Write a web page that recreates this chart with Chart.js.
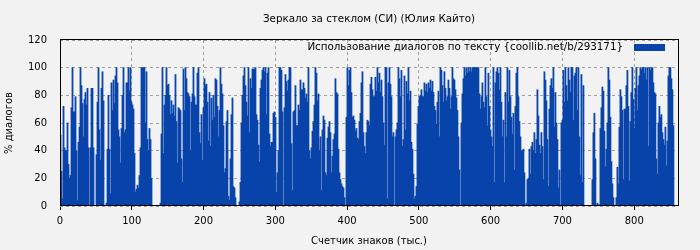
<!DOCTYPE html>
<html lang="ru">
<head>
<meta charset="utf-8">
<title>Зеркало за стеклом (СИ) (Юлия Кайто)</title>
<script src="https://cdn.jsdelivr.net/npm/chart.js@4.4.1/dist/chart.umd.min.js"></script>
<style>
  body { margin: 0; background: #f2f2f2; }
  canvas { display: block; }
</style>
</head>
<body>
<canvas id="dialogChart" width="700" height="250"></canvas>
<script>
const chartTitle = "Зеркало за стеклом (СИ) (Юлия Кайто)";
const seriesLabel = "Использование диалогов по тексту {coollib.net/b/293171}";
const xTitle = "Счетчик знаков (тыс.)";
const yTitle = "% диалогов";
const xTicks = [0, 100, 200, 300, 400, 500, 600, 700, 800];
const yTicks = [0, 20, 40, 60, 80, 100, 120];
const xMax = 861;
const kStep = 1.393; // тыс. знаков на один столбец

// % диалогов по участкам текста
const dialogShare = [
  51, 25, 5, 72, 42, 40, 40, 60, 30, 20, 22, 71, 100, 68, 68, 79, 40, 4, 46, 57,
  100, 87, 74, 50, 77, 82, 73, 85, 42, 0, 42, 85, 85, 42, 0, 0, 37, 75, 100, 55,
  33, 85, 97, 76, 0, 0, 2, 41, 80, 41, 9, 89, 69, 91, 74, 94, 100, 89, 55, 50,
  31, 56, 80, 100, 53, 55, 89, 89, 100, 83, 100, 75, 73, 70, 38, 10, 12, 15, 13, 22,
  42, 100, 100, 100, 100, 60, 97, 48, 40, 56, 48, 20, 0, 0, 0, 0, 0, 0, 0, 0,
  2, 52, 100, 38,
  73, 80, 100, 87, 88, 80, 66, 76, 67, 73, 65, 95, 61, 31, 71, 70, 69, 34, 17, 99,
  69, 100, 92, 82, 81, 79, 40, 75, 81, 100, 79, 73, 73, 96, 100, 53, 45, 66, 33, 71,
  92, 87, 88, 75, 47, 82, 43, 78, 62, 80, 64, 92, 91, 72, 50, 69, 100, 88, 81, 58,
  24, 27, 61, 69, 7, 4, 34, 66, 78, 14, 13, 6, 0, 0, 0, 3, 17, 60, 80, 94,
  100, 87, 75, 65, 100, 53, 92, 85, 99, 99, 99, 100, 66, 62, 44, 32, 85, 91, 98, 100,
  97, 100, 66, 96, 100,
  52, 43, 46, 46, 67, 68, 64, 10, 24, 40, 100, 100, 98, 68, 0, 71, 95, 90, 83, 91,
  100, 100, 45, 11, 68, 69, 87, 58, 58, 73, 69, 91, 84, 84, 89, 85, 78, 81, 75, 100,
  40, 34, 42, 54, 61, 73, 100, 96, 76, 81, 40, 50, 11, 55, 65, 62, 24, 22, 49, 57,
  61, 53, 24, 36, 48, 52, 92, 82, 81, 41, 24, 19, 16, 14, 13, 6, 0, 64, 100, 87,
  98, 100, 82, 64, 65, 62, 54, 56, 49, 48, 61, 67, 89, 97, 53, 43, 38, 53, 62, 61,
  58, 88, 93, 84, 79,
  79, 93, 83, 100, 89, 96, 82, 91, 79, 60, 44, 100, 100, 5, 89, 100, 88, 79, 50, 53,
  0, 50, 55, 60, 100, 92, 79, 98, 43, 48, 94, 55, 90, 81, 100, 76, 83, 46, 41, 23,
  5, 7, 14, 59, 72, 79, 80, 84, 79, 79, 89, 83, 88, 82, 89, 85, 91, 83, 90, 82,
  72, 69, 59, 75, 83, 50, 100, 98, 87, 75, 97, 85, 76, 79, 91, 85, 70, 79, 100, 92,
  91, 84, 78, 69, 50, 26, 0, 60, 81, 92, 100, 94, 100, 96, 100, 97, 100, 97, 100, 100,
  100, 100, 100, 100, 100,
  81, 70, 79, 89, 75, 71, 100, 79, 58, 96, 72, 55, 50, 43, 100, 17, 89, 97, 100, 96,
  84, 100, 75, 50, 62, 17, 82, 50, 100, 75, 98, 79, 64, 52, 67, 26, 72, 96, 100, 79,
  61, 50, 40, 40, 41, 24, 0, 2, 19, 20, 41, 23, 43, 46, 40, 53, 38, 48, 84, 65,
  44, 38, 53, 43, 19, 97, 91, 76, 48, 14, 70, 87, 92, 85, 100, 57, 82, 60, 48, 13,
  26, 0, 60, 62, 98, 75, 100, 87, 76, 100, 91, 82, 100, 100, 62, 94, 96, 100, 69, 100,
  50, 22, 95, 17, 87,
  0, 0, 0, 0, 0, 0, 0, 0,
  19, 53, 67, 34, 0, 2, 1, 0, 56, 71, 86, 83, 54, 28, 41, 60, 100, 91, 64, 32,
  16, 6, 0, 0, 6, 28, 16, 57, 84, 79, 69, 19, 70, 70, 87, 98, 72, 18, 61, 82,
  100, 77, 56, 85, 100, 69, 87, 94, 100, 98, 100, 100, 96, 100, 91, 100, 43, 100, 98, 100,
  100, 89, 82, 81, 34, 23, 60, 72, 64, 66, 53, 48, 44, 57, 29, 47, 94, 100, 100, 92,
  84, 58
];
// середина каждого участка, тыс. знаков
const kChars = dialogShare.map((_, i) => +(i * kStep + kStep / 2).toFixed(2));

const barColor = "#0844aa";

document.addEventListener("DOMContentLoaded", () => {
  Chart.defaults.font.family = "'DejaVu Sans', sans-serif";
  Chart.defaults.font.size = 10;
  Chart.defaults.color = "#000";

  // заголовок, легенда в поле графика и рамка
  const decor = {
    id: "decor",
    afterDraw(chart) {
      const { ctx, chartArea: a } = chart;
      ctx.save();
      ctx.font = "10.3px 'DejaVu Sans', sans-serif";
      ctx.fillStyle = "#000";
      ctx.textBaseline = "middle";
      ctx.textAlign = "center";
      ctx.fillText(chartTitle, (a.left + a.right) / 2, 19.5);
      ctx.textAlign = "right";
      ctx.fillText(seriesLabel, a.right - 55, a.top + 7.5);
      ctx.fillStyle = barColor;
      ctx.fillRect(a.right - 44, a.top + 4, 31, 7);
      ctx.strokeStyle = "#000";
      ctx.lineWidth = 1;
      ctx.strokeRect(a.left + 0.5, a.top - 0.5, a.right - a.left, a.bottom - a.top);
      ctx.restore();
    }
  };

  new Chart(document.getElementById("dialogChart"), {
    type: "bar",
    data: {
      labels: kChars,
      datasets: [{
        label: seriesLabel,
        data: dialogShare,
        backgroundColor: barColor,
        borderWidth: 0,
        barPercentage: 1,
        categoryPercentage: 1,
        inflateAmount: 0.4
      }]
    },
    options: {
      responsive: false,
      animation: false,
      layout: { padding: { top: 40, right: 22, left: 0, bottom: 0 } },
      plugins: {
        legend: { display: false },
        title: { display: false },
        tooltip: { enabled: false }
      },
      scales: {
        x: {
          type: "linear",
          offset: false,
          min: 0,
          max: xMax,
          afterFit: s => { s.height = 44; },
          afterBuildTicks: s => { s.ticks = xTicks.map(v => ({ value: v })); },
          ticks: { padding: 5, maxRotation: 0 },
          grid: { offset: false, color: "#a0a0a0", tickColor: "#000", tickLength: 4, tickBorderDash: [] },
          border: { display: false, dash: [3, 3] },
          title: { display: true, text: xTitle, padding: { top: 0, bottom: 3 } }
        },
        y: {
          min: 0,
          max: 120,
          afterFit: s => { s.width = 60; },
          afterBuildTicks: s => { s.ticks = yTicks.map(v => ({ value: v })); },
          ticks: { padding: 13 },
          grid: { color: "#a0a0a0", drawTicks: false },
          border: { display: false, dash: [3, 3] },
          title: { display: true, text: yTitle, padding: { top: 3, bottom: 0 } }
        }
      }
    },
    plugins: [decor]
  });
});
</script>
</body>
</html>
